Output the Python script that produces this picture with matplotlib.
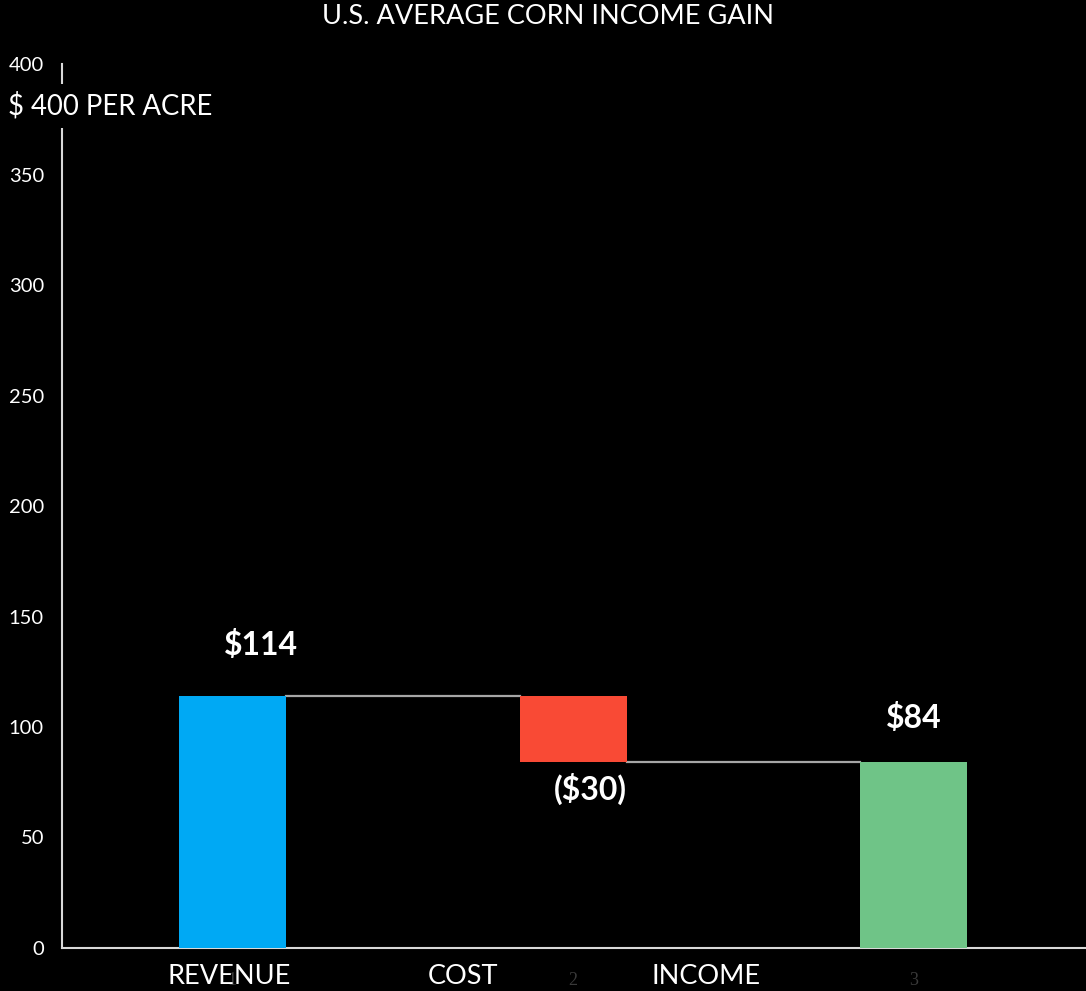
import matplotlib
matplotlib.use("Agg")
import matplotlib.pyplot as plt
import matplotlib.transforms as mtransforms

# Waterfall data: revenue gain, cost change, resulting income
categories = ["REVENUE", "COST", "INCOME"]
steps = [114, -30, 84]
value_labels = ["$114", "($30)", "$84"]
tick_labels = ["1", "2", "3"]
yticks = [0, 50, 100, 150, 200, 250, 300, 350, 400]

bar_colors = ["#00A9F4", "#F94A35", "#6FC487"]

plt.rcParams["font.family"] = ["Lato", "DejaVu Sans"]

fig = plt.figure(figsize=(10.86, 9.91), dpi=100, facecolor="black")
ax = fig.add_axes([0.0571, 0.0434, 0.9429, 0.892])
ax.set_facecolor("black")

x = [1, 2, 3]
width = 0.314

# bottoms/heights for a waterfall: first and last bars start at zero
bottoms = [0, steps[0] + steps[1], 0]
heights = [steps[0], -steps[1], steps[2]]
ax.bar(x, heights, bottom=bottoms, width=width, color=bar_colors, zorder=3)

# connector lines between bars
levels = [steps[0], steps[0] + steps[1]]
for i, lvl in enumerate(levels):
    ax.plot([x[i] + width / 2, x[i + 1] - width / 2], [lvl, lvl],
            color="#A6A6A6", lw=1.6, zorder=2)

# value labels
ax.text(x[0] + 0.085, steps[0] + 23, value_labels[0], color="white",
        fontsize=23, fontweight="bold", ha="center", va="center")
ax.text(x[1] + 0.05, bottoms[1] - 12, value_labels[1], color="white",
        fontsize=23, fontweight="bold", ha="center", va="center")
ax.text(x[2], steps[2] + 20, value_labels[2], color="white",
        fontsize=23, fontweight="bold", ha="center", va="center")

ax.set_xlim(0.5, 3.505)
ax.set_ylim(0, 400)
ax.set_yticks(yticks)
ax.set_yticklabels([str(v) for v in yticks], color="white", fontsize=14.5)
ax.set_xticks(x)
ax.set_xticklabels(tick_labels, color="#3A3A3A", fontsize=13,
                   family="Liberation Serif")
ax.tick_params(axis="both", length=0)
ax.tick_params(axis="y", pad=13)
ax.tick_params(axis="x", pad=17)

for side in ["top", "right"]:
    ax.spines[side].set_visible(False)
ax.spines["left"].set_color("#D9D9D9")
ax.spines["bottom"].set_color("#D9D9D9")
ax.spines["left"].set_linewidth(1.5)
ax.spines["bottom"].set_linewidth(1.5)

# category labels below the axis
trans = mtransforms.blended_transform_factory(ax.transData, fig.transFigure)
cat_pos = [0.99, 1.677, 2.39]
for pos, name in zip(cat_pos, categories):
    fig.text(pos, 0.015, name, transform=trans, color="white",
             fontsize=19.5, ha="center", va="center", zorder=5)

# y-axis caption covering part of the spine
fig.text(0.0075, 0.893, "$ 400 PER ACRE", color="white", fontsize=19.8,
         ha="left", va="center",
         bbox=dict(facecolor="black", edgecolor="none", pad=6), zorder=10)

fig.text(0.505, 0.983, "U.S. AVERAGE CORN INCOME GAIN", color="white",
         fontsize=19.5, ha="center", va="center")

fig.savefig("out.png", dpi=100, facecolor="black")
